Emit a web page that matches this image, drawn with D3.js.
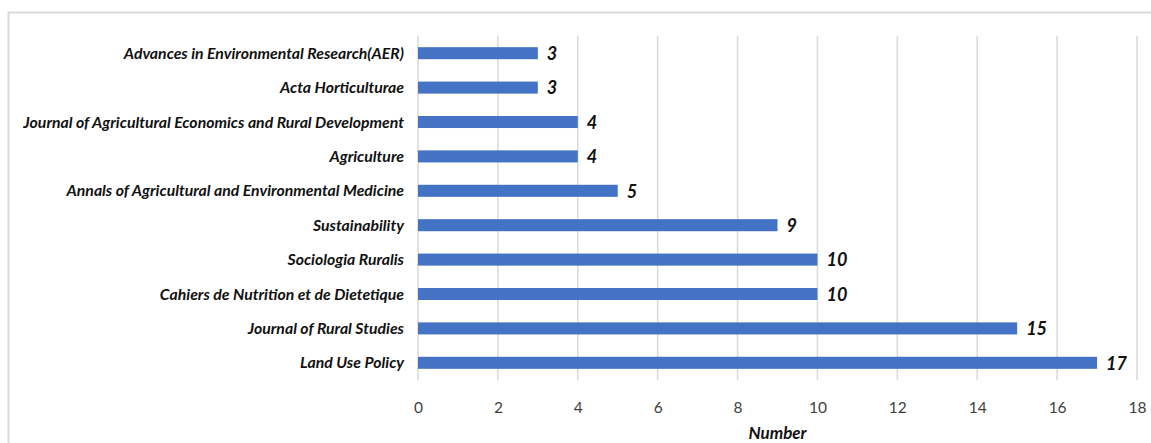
<!DOCTYPE html>
<html>
<head>
<meta charset="utf-8">
<script src="https://cdn.jsdelivr.net/npm/d3@7"></script>
<style>
  body { margin: 0; background: #fff; }
  svg text { font-family: Lato, "Open Sans", sans-serif; }
</style>
</head>
<body>
<div id="chart"></div>
<script>
// journals, top to bottom
var journals = [
    "Advances in Environmental Research(AER)",
    "Acta Horticulturae",
    "Journal of Agricultural Economics and Rural Development",
    "Agriculture ",
    "Annals of Agricultural and Environmental Medicine",
    "Sustainability ",
    "Sociologia Ruralis",
    "Cahiers de Nutrition et de Dietetique",
    "Journal of Rural Studies ",
    "Land Use Policy"
];
var counts = [3, 3, 4, 4, 5, 9, 10, 10, 15, 17];
var xTicks = [0, 2, 4, 6, 8, 10, 12, 14, 16, 18];

var svgWidth = 1151;
var svgHeight = 443;

var margin = { top: 36, bottom: 63, left: 418, right: 14 };
var chartWidth = svgWidth - margin.left - margin.right;
var chartHeight = svgHeight - margin.top - margin.bottom;

var svg = d3.select('#chart')
    .append('svg')
    .attr('width', svgWidth)
    .attr('height', svgHeight);

// outer frame (only top and left edges show)
svg.append('path')
    .attr('d', 'M8.5,' + svgHeight + ' V12.5 H' + svgWidth)
    .attr('fill', 'none')
    .attr('stroke', '#d9d9d9')
    .attr('stroke-width', 2);

var chart = svg.append('g').attr('transform', `translate(${margin.left}, ${margin.top})`);

var x = d3.scaleLinear()
    .domain([0, 18])
    .range([0, chartWidth]);

var y = d3.scaleBand()
    .domain(journals)
    .range([0, chartHeight])
    .paddingInner(0.65)
    .paddingOuter(0.325);

// gridlines
chart.selectAll('line.grid')
    .data(xTicks)
    .enter()
    .append('line')
    .attr('class', 'grid')
    .attr('x1', d => x(d))
    .attr('x2', d => x(d))
    .attr('y1', 0)
    .attr('y2', chartHeight)
    .attr('stroke', '#d9d9d9')
    .attr('stroke-width', 1.5);

// bottom axis, tick labels only
var bottomAxis = d3.axisBottom(x).tickValues(xTicks).tickSize(0).tickPadding(22);
var gx = chart.append('g')
    .attr('transform', `translate(0, ${chartHeight})`)
    .call(bottomAxis);
gx.select('.domain').remove();
gx.selectAll('text')
    .style('font-size', '15.5px')
    .style('font-family', 'Lato, sans-serif')
    .attr('fill', '#404040');

// category labels
chart.selectAll('text.cat')
    .data(journals)
    .enter()
    .append('text')
    .attr('class', 'cat')
    .attr('x', -14)
    .attr('y', d => y(d) + y.bandwidth() / 2)
    .attr('dy', '0.35em')
    .style('text-anchor', 'end')
    .style('font-size', '15.8px')
    .style('font-weight', 'bold')
    .style('font-style', 'italic')
    .attr('fill', '#111')
    .text(d => d);

// bars
chart.selectAll('rect.bar')
    .data(counts)
    .enter()
    .append('rect')
    .attr('class', 'bar')
    .attr('x', x(0))
    .attr('y', (d, i) => y(journals[i]))
    .attr('width', d => x(d) - x(0))
    .attr('height', y.bandwidth())
    .attr('fill', '#4472C4');

// value labels
chart.selectAll('text.val')
    .data(counts)
    .enter()
    .append('text')
    .attr('class', 'val')
    .attr('x', d => x(d) + 9)
    .attr('y', (d, i) => y(journals[i]) + y.bandwidth() / 2)
    .attr('dy', '0.38em')
    .style('font-size', '18px')
    .style('font-weight', 'bold')
    .style('font-style', 'italic')
    .attr('fill', '#111')
    .text(d => d);

// x axis title
chart.append('text')
    .attr('x', chartWidth / 2)
    .attr('y', chartHeight + 59)
    .style('text-anchor', 'middle')
    .style('font-size', '17px')
    .style('font-weight', 'bold')
    .style('font-style', 'italic')
    .attr('fill', '#111')
    .text('Number');
</script>
</body>
</html>
